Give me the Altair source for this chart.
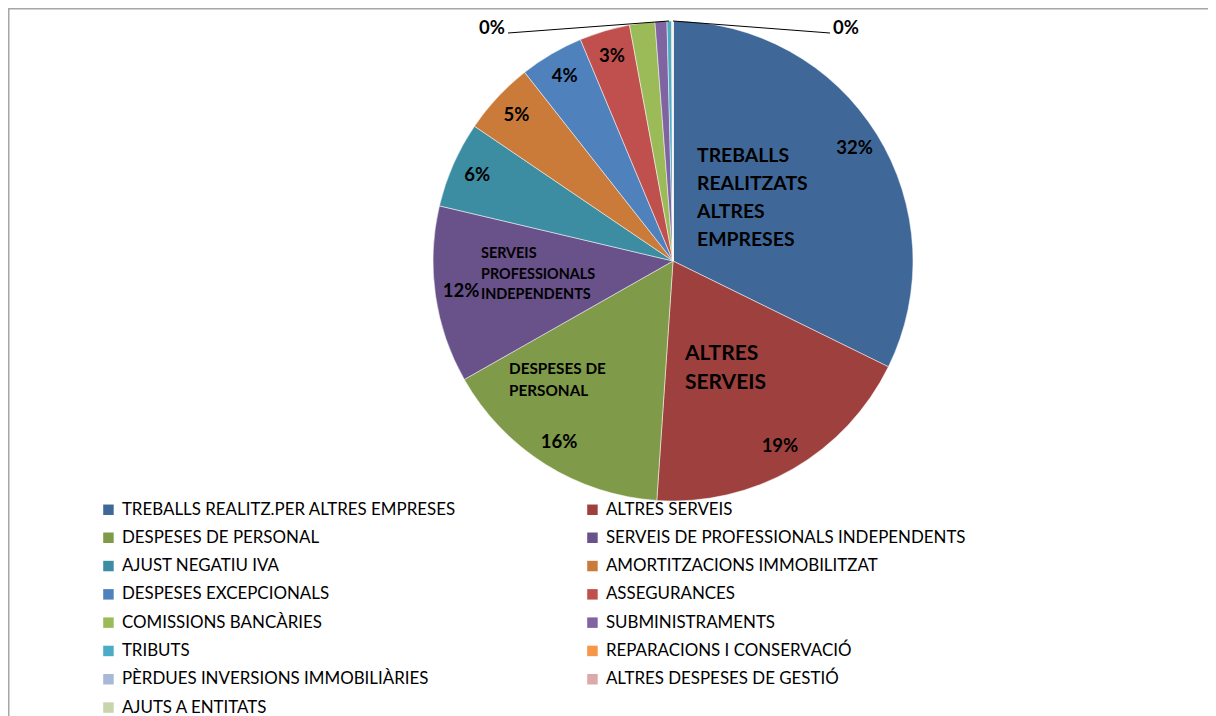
import altair as alt
import pandas as pd

categories = [
    "TREBALLS REALITZ.PER ALTRES EMPRESES",
    "ALTRES SERVEIS",
    "DESPESES DE PERSONAL",
    "SERVEIS DE PROFESSIONALS INDEPENDENTS",
    "AJUST NEGATIU IVA",
    "AMORTITZACIONS IMMOBILITZAT",
    "DESPESES EXCEPCIONALS",
    "ASSEGURANCES",
    "COMISSIONS BANCÀRIES",
    "SUBMINISTRAMENTS",
    "TRIBUTS",
    "REPARACIONS I CONSERVACIÓ",
    "PÈRDUES  INVERSIONS IMMOBILIÀRIES",
    "ALTRES DESPESES DE GESTIÓ",
    "AJUTS A ENTITATS",
]
shares = [32.25, 18.8, 15.7, 11.9, 5.8, 4.9, 4.3, 3.4, 1.7, 0.8, 0.3, 0.1, 0.0, 0.0, 0.0]
pct_labels = ["32%", "19%", "16%", "12%", "6%", "5%", "4%", "3%", "", "", "", "", "", "", ""]
colors = [
    "#3F6899", "#9E413E", "#7F9A48", "#69518A", "#3D8DA2", "#CA7B39",
    "#4F81BD", "#C0504D", "#9BBB59", "#8064A2", "#4BACC6", "#F79646",
    "#A7B8D8", "#DBA9A8", "#C6D6AA",
]
zero_labels = ["0%", "0%"]
name_treballs = "TREBALLS\nREALITZATS\nALTRES\nEMPRESES"
name_altres = "ALTRES\nSERVEIS"
name_despeses = "DESPESES DE\nPERSONAL"
name_serveis = "SERVEIS\nPROFESSIONALS\nINDEPENDENTS"

df = pd.DataFrame({
    "cat": categories,
    "share": shares,
    "pct": pct_labels,
    "idx": list(range(len(categories))),
})

# The legend fills column by column; reorder the domain so that it reads row by row
legend_order = list(range(0, len(categories), 2)) + list(range(1, len(categories), 2))
dom = [categories[i] for i in legend_order]
rng = [colors[i] for i in legend_order]

CX, CY, R = 665, 253, 240
FONT = "Lato"

theta = alt.Theta("share:Q", stack=True)
order = alt.Order("idx:Q")

pie = alt.Chart(df).mark_arc(
    outerRadius=R, x=CX, y=CY, stroke="#ffffff", strokeWidth=0.5
).encode(
    theta=theta,
    order=order,
    color=alt.Color(
        "cat:N",
        sort=dom,
        scale=alt.Scale(domain=dom, range=rng),
        legend=alt.Legend(
            orient="none", legendX=92, legendY=493, columns=2,
            columnPadding=128, rowPadding=10.3, symbolType="square",
            symbolSize=110, symbolStrokeWidth=0, labelFont=FONT,
            labelFontSize=16.9, labelColor="#000000", title=None,
            labelLimit=0, padding=0, labelOffset=5,
        ),
    ),
)

pct = alt.Chart(df).mark_text(
    radius=214, x=CX, y=CY, font=FONT, fontWeight="bold", fontSize=18.5,
    color="#000000", align="center", baseline="middle",
).encode(theta=theta, order=order, text="pct:N")


def note(text, x, y, size, lh):
    return alt.Chart(pd.DataFrame({"t": [text]})).mark_text(
        font=FONT, fontWeight="bold", fontSize=size, color="#000000",
        align="left", baseline="alphabetic", lineBreak="\n", lineHeight=lh,
    ).encode(text="t:N", x=alt.value(x), y=alt.value(y))


n1 = note(name_treballs, 689, 154, 19.4, 28)
n2 = note(name_altres, 677, 351.5, 21, 29)
n3 = note(name_despeses, 501, 366, 15.3, 22)
n4 = note(name_serveis, 473, 250, 14.4, 20.5)

zl = alt.Chart(pd.DataFrame({"t": [zero_labels[0]]})).mark_text(
    font=FONT, fontWeight="bold", fontSize=18.5, color="#000000",
    align="right", baseline="middle",
).encode(text="t:N", x=alt.value(497), y=alt.value(20))
zr = alt.Chart(pd.DataFrame({"t": [zero_labels[1]]})).mark_text(
    font=FONT, fontWeight="bold", fontSize=18.5, color="#000000",
    align="left", baseline="middle",
).encode(text="t:N", x=alt.value(825), y=alt.value(20))

lead_l = alt.Chart(pd.DataFrame({"t": [0]})).mark_rule(color="#000000", strokeWidth=1).encode(
    x=alt.value(500), x2=alt.value(661), y=alt.value(25), y2=alt.value(13))
lead_r = alt.Chart(pd.DataFrame({"t": [0]})).mark_rule(color="#000000", strokeWidth=1).encode(
    x=alt.value(665), x2=alt.value(822), y=alt.value(13), y2=alt.value(25))

border_top = alt.Chart(pd.DataFrame({"t": [0]})).mark_rule(color="#a6a6a6", strokeWidth=1.5).encode(
    x=alt.value(0), x2=alt.value(1210), y=alt.value(0.75), y2=alt.value(0.75))
border_left = alt.Chart(pd.DataFrame({"t": [0]})).mark_rule(color="#a6a6a6", strokeWidth=1.5).encode(
    x=alt.value(0.75), x2=alt.value(0.75), y=alt.value(0), y2=alt.value(710))

chart = alt.layer(
    pie, pct, n1, n2, n3, n4, zl, zr, lead_l, lead_r, border_top, border_left
).properties(
    width=1200, height=708, autosize=alt.AutoSizeParams(type="none"), padding=0,
).configure_view(stroke=None).configure(background="#ffffff")

chart.save("out.html", embed_options={"renderer": "svg", "actions": False})
